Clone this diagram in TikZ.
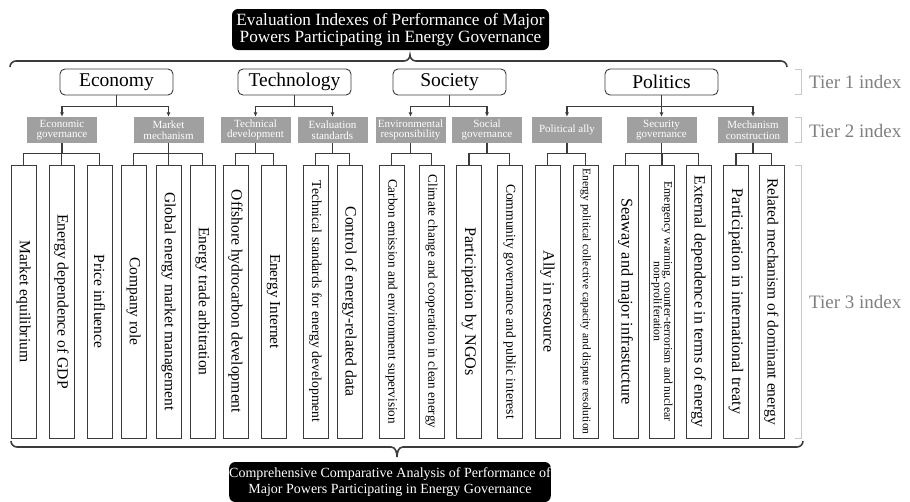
\documentclass[tikz,border=0pt]{standalone}
\usepackage{fontspec}
\usepackage{graphicx}
\setmainfont{Liberation Serif}
\newfontfamily\tnr{Liberation Serif}
\usetikzlibrary{arrows.meta}
\definecolor{lineg}{RGB}{60,60,60}
\definecolor{t2gray}{RGB}{160,160,160}
\definecolor{labg}{RGB}{128,128,128}
\definecolor{brk}{RGB}{200,200,200}
\begin{document}
\begin{tikzpicture}[x=1pt,y=-1pt,
 topbox/.style={fill=black, text=white, rounded corners=6pt, align=center, inner sep=0pt, minimum width=317, minimum height=41, font=\tnr\fontsize{17.2}{17}\selectfont},
 botbox/.style={fill=black, text=white, rounded corners=6pt, align=center, inner sep=0pt, minimum width=316, minimum height=40, font=\tnr\fontsize{14}{16.5}\selectfont},
 t1box/.style={draw=lineg, line width=0.9pt, rounded corners=5pt, fill=white, minimum width=113, minimum height=26, inner sep=0pt, font=\tnr\fontsize{19.5}{20}\selectfont},
 t2box/.style={fill=t2gray, text=white, minimum width=70, minimum height=26, inner sep=0pt, align=center, font=\tnr\fontsize{11}{10.5}\selectfont},
 t3box/.style={draw=lineg, line width=0.9pt, minimum width=25, minimum height=273, inner sep=0pt},
 t3txt/.style={rotate=-90, inner sep=0pt, font=\tnr},
 conn/.style={draw=lineg, line width=1.1pt},
 arr/.style={conn, -{Latex[length=4.5pt,width=4pt]}},
 bracestyle/.style={draw=lineg, line width=1.6pt},
 tierbr/.style={draw=brk, line width=1pt},
 tierlab/.style={text=labg, anchor=west, inner sep=0pt, font=\tnr\fontsize{19}{20}\selectfont},
]
\useasboundingbox (0,0) rectangle (910,501);

% top and bottom boxes
\node[topbox] (top) at (390.5,29.5) {Evaluation Indexes of Performance of Major\\Powers Participating in Energy Governance};
\node[botbox] (bot) at (390,482) {Comprehensive Comparative Analysis of Performance of\\Major Powers Participating in Energy Governance};

% top brace
\coordinate (tbL) at (10,67);
\coordinate (tbR) at (787,67);
\coordinate (tbT) at (410,55);
\draw[bracestyle] (tbL) to[out=90,in=180] (16,61) -- (404,61) to[out=0,in=-90] (tbT)
  to[out=-90,in=180] (416,61) -- (781,61) to[out=0,in=90] (tbR);

% bottom brace
\coordinate (bbL) at (11,441);
\coordinate (bbR) at (803,441);
\coordinate (bbT) at (397,457);
\draw[bracestyle] (bbL) to[out=-90,in=180] (17,447) -- (391,447) to[out=0,in=90] (bbT)
  to[out=90,in=180] (403,447) -- (797,447) to[out=0,in=-90] (bbR);

% tier 1
\node[t1box] (eco) at (116.5,82) {Economy};
\node[t1box] (tec) at (294.5,82) {Technology};
\node[t1box] (soc) at (449.5,82) {Society};
\node[t1box] (pol) at (661.5,82) {Politics};

% tier 2
\node[t2box] (eg) at (62,130) {Economic\\governance};
\node[t2box] (mm) at (168.5,130) {Market\\mechanism};
\node[t2box] (td) at (255.5,130) {Technical\\development};
\node[t2box] (es) at (332.5,130) {Evaluation\\standards};
\node[t2box] (er) at (410.5,130) {Environmental\\responsibility};
\node[t2box] (sg) at (487,130) {Social\\governance};
\node[t2box] (pa) at (567,130) {Political ally};
\node[t2box] (sc) at (661.5,130) {Security\\governance};
\node[t2box] (mc) at (753,130) {Mechanism\\construction};

% tier 1 -> tier 2
\draw[conn] (eco.south) -- ++(0,11) coordinate (ecoJ);
\draw[arr] (ecoJ) -| (eg.north);
\draw[arr] (ecoJ) -| (mm.north);
\draw[conn] (tec.south) -- ++(0,11) coordinate (tecJ);
\draw[arr] (tecJ) -| (td.north);
\draw[arr] (tecJ) -| (es.north);
\draw[conn] (soc.south) -- ++(0,11) coordinate (socJ);
\draw[arr] (socJ) -| (er.north);
\draw[arr] (socJ) -| (sg.north);
\draw[conn] (pol.south) -- ++(0,11) coordinate (polJ);
\draw[arr] (polJ) -| (pa.north);
\draw[arr] (polJ) -- (sc.north);
\draw[arr] (polJ) -| (mc.north);

% tier 3 boxes
\foreach \n/\x in {1/23.5,2/61.5,3/99.5,4/133.5,5/168.5,6/202.5,7/235.5,8/273.5,9/315.5,10/349.5,11/391.5,12/431.5,13/469,14/509.5,15/547.5,16/585.5,17/625.5,18/662,19/698.5,20/736,21/771.5}
  \node[t3box] (b\n) at (\x,301.5) {};

% tier 3 texts
\node[t3txt] (x1) at (b1.center) {\resizebox{121.7pt}{!}{Market equilibrium}};
\node[t3txt] (x2) at (b2.center) {\resizebox{175pt}{!}{Energy dependence of GDP}};
\node[t3txt] (x3) at (b3.center) {\resizebox{93.3pt}{!}{Price influence}};
\node[t3txt] (x4) at (b4.center) {\resizebox{88.3pt}{!}{Company role}};
\node[t3txt] (x5) at (b5.center) {\resizebox{218.3pt}{!}{Global energy market management}};
\node[t3txt] (x6) at (b6.center) {\resizebox{148.3pt}{!}{Energy trade arbitration}};
\node[t3txt] (x7) at (b7.center) {\resizebox{223.3pt}{!}{Offshore hydrocarbon development}};
\node[t3txt] (x8) at (b8.center) {\resizebox{95pt}{!}{Energy Internet}};
\node[t3txt] (x9) at (b9.center) {\resizebox{241.7pt}{!}{Technical standards for energy development}};
\node[t3txt] (x10) at (b10.center) {\resizebox{190pt}{!}{Control of energy-related data}};
\node[t3txt] (x11) at (b11.center) {\resizebox{245pt}{!}{Carbon emission and environment supervision}};
\node[t3txt] (x12) at (b12.center) {\resizebox{253.3pt}{!}{Climate change and cooperation in clean energy}};
\node[t3txt] (x13) at (b13.center) {\resizebox{148.3pt}{!}{Participation by NGOs}};
\node[t3txt] (x14) at (b14.center) {\resizebox{235pt}{!}{Community governance and public interest}};
\node[t3txt] (x15) at (b15.center) {\resizebox{101.7pt}{!}{Ally in resource}};
\node[t3txt] (x16) at (b16.center) {\resizebox{266pt}{!}{Energy political collective capacity and dispute resolution}};
\node[t3txt] (x17) at (b17.center) {\resizebox{206.7pt}{!}{Seaway and major infrastucture}};
\node[t3txt] (x18) at (b18.center) {\resizebox{240pt}{!}{\begin{tabular}{@{}c@{}}Emergency warning, counter-terrorism and nuclear\\[-3pt]non-proliferation\end{tabular}}};
\node[t3txt] (x19) at (b19.center) {\resizebox{251.7pt}{!}{External dependence in terms of energy}};
\node[t3txt] (x20) at (b20.center) {\resizebox{225pt}{!}{Participation in international treaty}};
\node[t3txt] (x21) at (b21.center) {\resizebox{246.7pt}{!}{Related mechanism of dominant energy}};

% tier 2 -> tier 3
\foreach \p/\kids in {eg/{1,2,3},mm/{4,5,6},td/{7,8},es/{9,10},er/{11,12},sg/{13,14},pa/{15,16},sc/{17,18,19},mc/{20,21}}{
  \draw[conn] (\p.south) -- ++(0,10) coordinate (\p J);
  \foreach \k in \kids { \draw[conn] (\p J) -| (b\k.north); }
}

% tier brackets and labels
\draw[tierbr] (795,69) -- (801,69) -- (801,94) -- (795,94);
\draw[tierbr] (795,117) -- (801,117) -- (801,142) -- (795,142);
\draw[tierbr] (795,165) -- (801,165) -- (801,438) -- (795,438);
\node[tierlab] (l1) at (809,82) {Tier 1 index};
\node[tierlab] (l2) at (809,131) {Tier 2 index};
\node[tierlab] (l3) at (809,302) {Tier 3 index};
\end{tikzpicture}
\end{document}
